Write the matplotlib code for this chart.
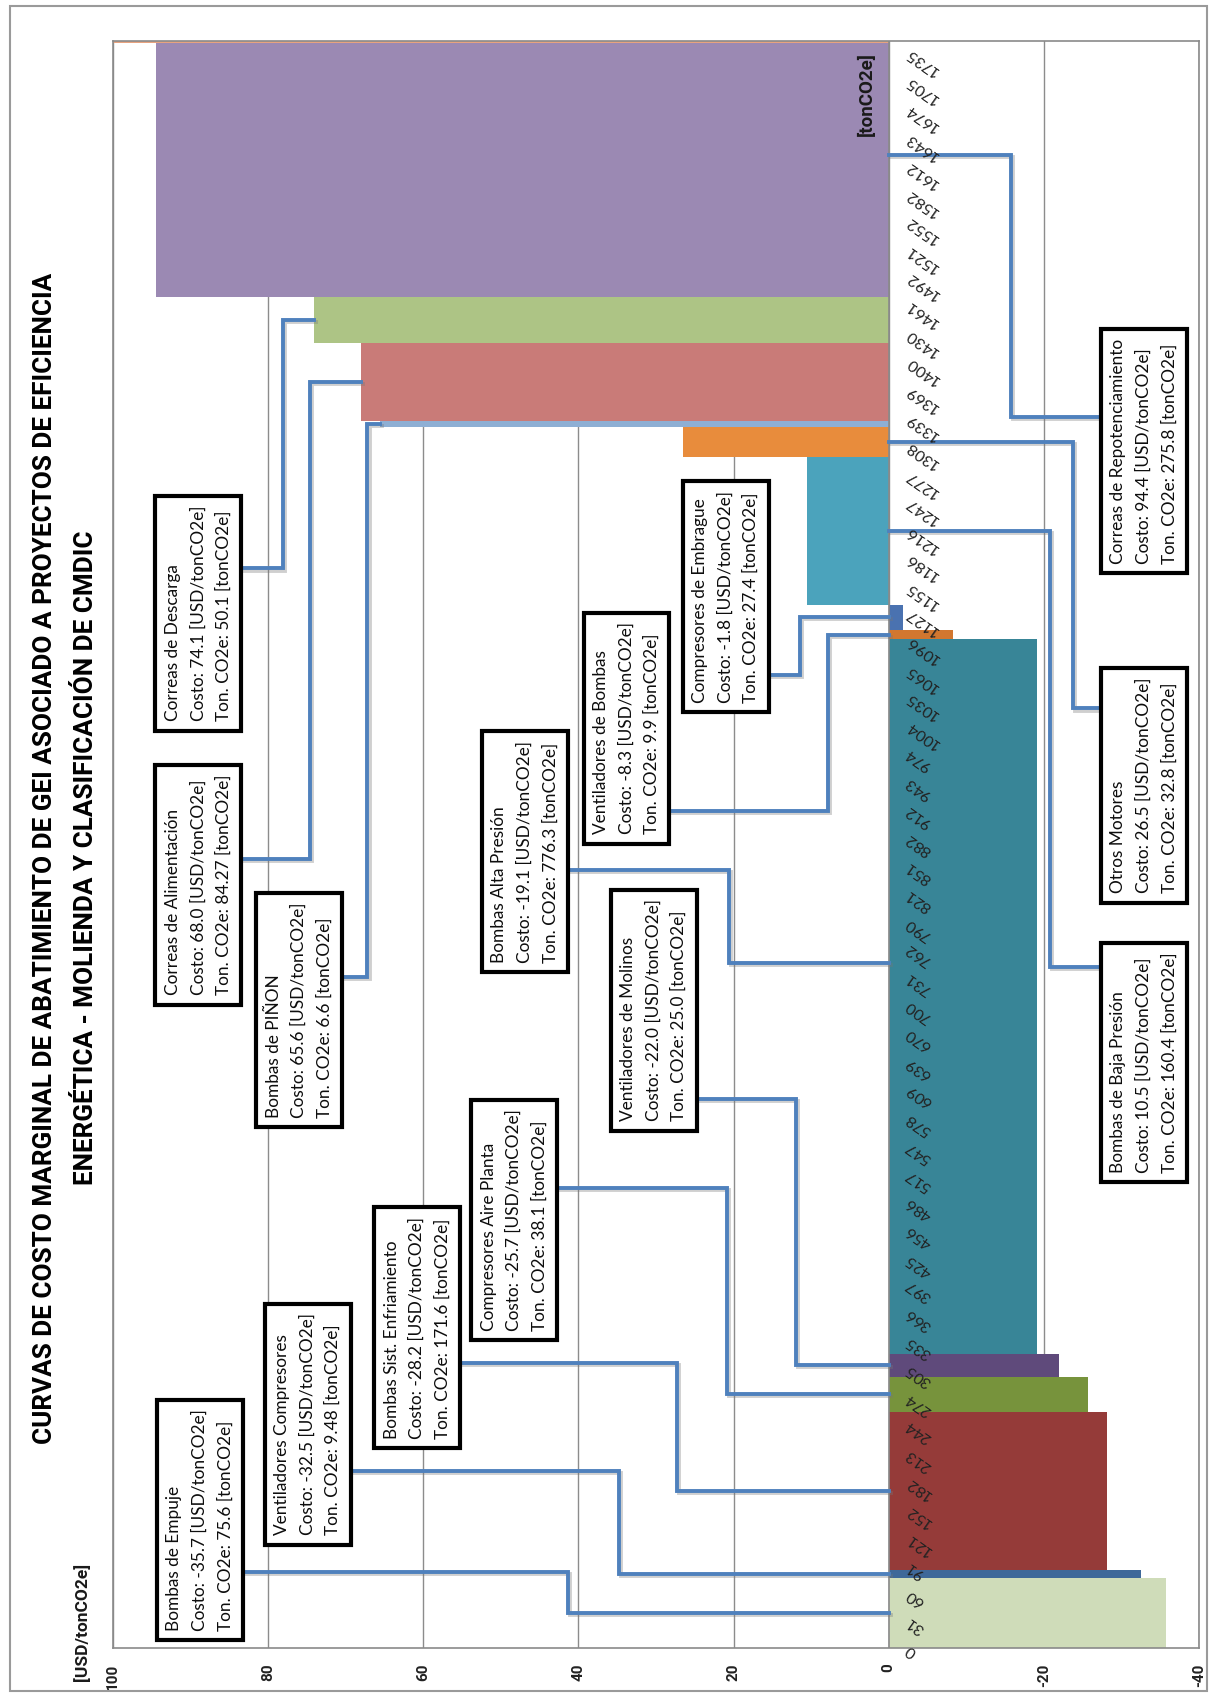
import numpy as np
import matplotlib.pyplot as plt
from matplotlib import patheffects as pe
from matplotlib.patches import Rectangle

plt.rcParams['font.family'] = ['Lato', 'DejaVu Sans']
NEGRITA = ['Roboto', 'DejaVu Sans']

# proyectos ordenados por costo marginal
proyectos = [
    "Bombas de Empuje", "Ventiladores Compresores", "Bombas Sist. Enfriamiento",
    "Compresores Aire Planta", "Ventiladores de Molinos", "Bombas Alta Presión",
    "Ventiladores de Bombas", "Compresores de Embrague", "Bombas de Baja Presión",
    "Otros Motores", "Bombas de PIÑON", "Correas de Alimentación",
    "Correas de Descarga", "Correas de Repotenciamiento", "",
]
costo = [-35.7, -32.5, -28.2, -25.7, -22.0, -19.1, -8.3, -1.8,
         10.5, 26.5, 65.6, 68.0, 74.1, 94.4, 104.0]
toneladas = [75.6, 9.48, 171.6, 38.1, 25.0, 776.3, 9.9, 27.4,
             160.4, 32.8, 6.6, 84.27, 50.1, 275.8, 2.5]
colores = ["#CFDCB9", "#3E6899", "#953B39", "#77933C", "#5F4A7B", "#388597",
           "#D2772F", "#4A72B0", "#4BA3BC", "#E88C3C", "#8EAFD4", "#C97B78",
           "#ADC485", "#9B89B3", "#E8A37F"]

ticks_ton = [0, 31, 60, 91, 121, 152, 182, 213, 244, 274, 305, 335, 366, 397,
             425, 456, 486, 517, 547, 578, 609, 639, 670, 700, 731, 762, 790,
             821, 851, 882, 912, 943, 974, 1004, 1035, 1065, 1096, 1127, 1155,
             1186, 1216, 1247, 1277, 1308, 1339, 1369, 1400, 1430, 1461, 1492,
             1521, 1552, 1582, 1612, 1643, 1674, 1705, 1735]
ticks_costo = [100, 80, 60, 40, 20, 0, -20, -40]

# ubicacion de cada cuadro: (costo, ton) del centro, codo del conector,
# altura de salida y desplazamiento del punto de llegada
cajas = [(88.8, 139), (74.9, 243), (60.8, 348), (48.3, 465), (30.3, 693),
         (46.9, 865), (33.8, 999), (21.0, 1142), (-32.9, 636), (-32.9, 937),
         (76.0, 693), (89.0, 829), (89.0, 1124), (-32.9, 1300)]
codos = [41.3, 34.8, 27.3, 20.8, 12.0, 20.6, 7.8, 11.4, -20.8, -23.7,
         67.2, 74.6, 78.1, -15.7]
salidas = [82.6, 192.4, 309.8, 500, 596.7, 845.7, 909.8, 1057.6, 740.2,
           1020.7, 729.3, 857.6, 1172.8, 1337]
ajuste_llegada = [0, 0, 0, 0, 0, 36, 0, 0, 0, 0, 0, 0, 0, 17]


def fmt_ton(t):
    s = f"{t:.2f}".rstrip("0")
    return s + "0" if s.endswith(".") else s


W, H = 1221, 1697
fig = plt.figure(figsize=(W / 100, H / 100), dpi=100)
ax = fig.add_axes([113 / W, 1 - 1648 / H, (1199 - 113) / W, (1648 - 41) / H])

base = np.concatenate([[0], np.cumsum(toneladas)[:-1]])
total = float(np.sum(toneladas))
ax.barh(base, costo, height=toneladas, align="edge", color=colores,
        edgecolor="none", zorder=2)

ax.set_xlim(100, -40)
ax.set_ylim(0, total)
ax.set_xticks(ticks_costo)
ax.set_xticklabels([str(v) for v in ticks_costo], rotation=90, family=NEGRITA,
                   fontsize=11, fontweight="bold", color="#222222")
ax.set_yticks([])
ax.tick_params(axis="x", length=0, pad=11)
ax.grid(axis="x", color="#8c8c8c", lw=1)
ax.set_axisbelow(True)
for s in ax.spines.values():
    s.set_color("#8a8a8a")
    s.set_linewidth(1.2)
ax.axvline(0, color="#8a8a8a", lw=1.2, zorder=2.5)

# etiquetas del eje de toneladas, inclinadas
for t in ticks_ton:
    ax.text(-2.4, t, str(t), rotation=145, rotation_mode="anchor",
            ha="right", va="center", fontsize=11.5, color="#222222", zorder=4)

ax.text(2.8, 1688, "[tonCO2e]", rotation=90, ha="center", va="center",
        family=NEGRITA, fontsize=13.5, fontweight="bold", color="#1a1a1a",
        zorder=4)

sombra = [pe.SimpleLineShadow(offset=(1.5, -1.5), shadow_color="#777777",
                              alpha=0.35), pe.Normal()]

for i, nombre in enumerate(proyectos):
    if not nombre:
        continue
    bx, by = cajas[i]
    mitad = base[i] + toneladas[i] / 2 + ajuste_llegada[i]
    fin_x = costo[i] if (bx > 0 and costo[i] > 0) else 0
    ax.plot([bx, codos[i], codos[i], fin_x], [salidas[i], salidas[i], mitad, mitad],
            color="#4F81BD", lw=2.8, solid_joinstyle="miter", zorder=3,
            path_effects=sombra)
    texto = (f"{nombre}\nCosto: {costo[i]:.1f} [USD/tonCO2e]\n"
             f"Ton. CO2e: {fmt_ton(toneladas[i])} [tonCO2e]")
    ax.text(bx, by, texto, rotation=90, ha="center", va="center",
            multialignment="left", fontsize=12.4, linespacing=1.7,
            color="#0d0d0d", zorder=5,
            bbox=dict(boxstyle="square,pad=0.55", fc="white", ec="black", lw=3))

# titulo y etiqueta del eje de costo
fig.text(45 / W, 1 - 858 / H,
         "CURVAS DE COSTO MARGINAL DE ABATIMIENTO DE GEI ASOCIADO A PROYECTOS DE EFICIENCIA",
         rotation=90, ha="center", va="center", family=NEGRITA, fontsize=18.8,
         fontweight="bold")
fig.text(86 / W, 1 - 858 / H,
         "ENERGÉTICA - MOLIENDA Y CLASIFICACIÓN DE CMDIC",
         rotation=90, ha="center", va="center", family=NEGRITA, fontsize=18.8,
         fontweight="bold")
fig.text(82 / W, 1 - 1622 / H, "[USD/tonCO2e]", rotation=90, ha="center",
         va="center", family=NEGRITA, fontsize=12.5, fontweight="bold",
         color="#1a1a1a")

fig.add_artist(Rectangle((10 / W, 6 / H), 1197 / W, 1685 / H,
                         transform=fig.transFigure, fill=False,
                         ec="#9a9a9a", lw=1.5))

fig.savefig("out.png", dpi=100)
